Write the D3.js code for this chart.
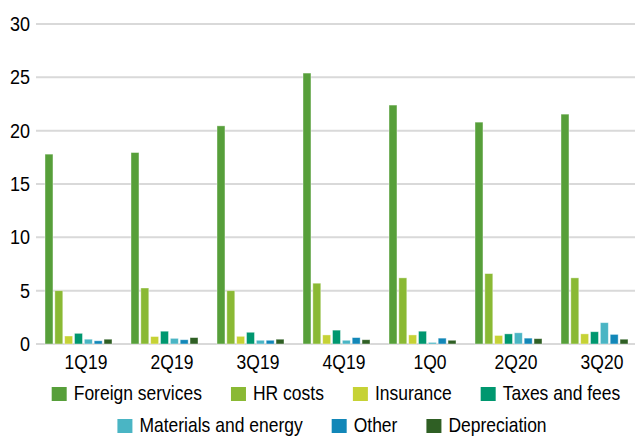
<!DOCTYPE html>
<html>
<head>
<meta charset="utf-8">
<script src="https://cdn.jsdelivr.net/npm/d3@7"></script>
<style>
  body { margin: 0; background: #fff; }
  svg { display: block; font-family: "Liberation Sans", Arial, sans-serif; }
</style>
</head>
<body>
<div id="wrapper"></div>
<script>
const quarters = ["1Q19", "2Q19", "3Q19", "4Q19", "1Q0", "2Q20", "3Q20"];
const seriesNames = ["Foreign services", "HR costs", "Insurance", "Taxes and fees",
  "Materials and energy", "Other", "Depreciation"];
const foreignServices = [17.8, 17.95, 20.45, 25.4, 22.4, 20.8, 21.55];
const hrCosts = [5.0, 5.25, 5.0, 5.7, 6.2, 6.6, 6.2];
const insurance = [0.75, 0.7, 0.72, 0.85, 0.85, 0.8, 0.95];
const taxesAndFees = [1.0, 1.2, 1.1, 1.3, 1.2, 0.95, 1.15];
const materialsEnergy = [0.45, 0.53, 0.35, 0.35, 0.15, 1.05, 2.0];
const other = [0.3, 0.4, 0.35, 0.6, 0.55, 0.55, 0.9];
const depreciation = [0.45, 0.6, 0.45, 0.4, 0.35, 0.5, 0.45];
const yTicks = [0, 5, 10, 15, 20, 25, 30];
const colors = ["#579f3a", "#8ab934", "#c6d235", "#00976f", "#4ab5c4", "#1287b8", "#2f5f24"];

const allSeries = [foreignServices, hrCosts, insurance, taxesAndFees, materialsEnergy, other, depreciation];
const data = quarters.map((q, i) => ({
  quarter: q,
  values: seriesNames.map((s, j) => ({ series: s, value: allSeries[j][i] })),
}));

const width = 635;
const height = 437;

const svg = d3.select("#wrapper").append("svg")
  .attr("width", width)
  .attr("height", height);

const yScale = d3.scaleLinear().domain([0, 30]).range([344, 24]);
const x0 = d3.scaleBand().domain(quarters).range([38, 640]);
const x1 = d3.scaleBand().domain(seriesNames).range([0, 67]).paddingInner(0.19);
const color = d3.scaleOrdinal().domain(seriesNames).range(colors);

// grid lines
svg.append("g")
  .selectAll("line")
  .data(yTicks)
  .join("line")
  .attr("x1", 36)
  .attr("x2", width)
  .attr("y1", (d) => yScale(d))
  .attr("y2", (d) => yScale(d))
  .attr("stroke", "#d9d9d9")
  .attr("stroke-width", 2);

// y labels
const stretch = 1.12;
svg.append("g")
  .selectAll("text")
  .data(yTicks)
  .join("text")
  .attr("transform", (d) => `translate(30, ${yScale(d) + 7}) scale(1, ${stretch})`)
  .attr("text-anchor", "end")
  .style("font-size", "18px")
  .attr("fill", "#000")
  .text((d) => d);

// bars
const groups = svg.append("g")
  .selectAll("g")
  .data(data)
  .join("g")
  .attr("transform", (d) => `translate(${x0(d.quarter) + 7}, 0)`);

groups.selectAll("rect")
  .data((d) => d.values)
  .join("rect")
  .attr("x", (d) => x1(d.series))
  .attr("width", x1.bandwidth())
  .attr("y", (d) => yScale(d.value))
  .attr("height", (d) => yScale(0) - yScale(d.value))
  .attr("fill", (d) => color(d.series))
  .attr("stroke", "#ffffff")
  .attr("stroke-opacity", 0.5)
  .attr("stroke-width", 0.8);

// x labels
svg.append("g")
  .selectAll("text")
  .data(quarters)
  .join("text")
  .attr("transform", (d) => `translate(${x0(d) + x0.bandwidth() / 2 + 5}, 369) scale(1, ${stretch})`)
  .attr("text-anchor", "middle")
  .style("font-size", "17.5px")
  .attr("fill", "#000")
  .text((d) => d);

// legend
const legendRows = [seriesNames.slice(0, 4), seriesNames.slice(4)];
const rowBaselines = [400, 432];
const rowCenters = [336, 332];
const swatch = 15;
const swatchGap = 7;
const itemGap = 29;

legendRows.forEach((row, r) => {
  const g = svg.append("g");
  const items = g.selectAll("g")
    .data(row)
    .join("g");
  items.append("rect")
    .attr("width", swatch)
    .attr("height", 14)
    .attr("y", rowBaselines[r] - 13)
    .attr("fill", (d) => color(d));
  items.append("text")
    .attr("transform", `translate(${swatch + swatchGap}, ${rowBaselines[r]}) scale(1, ${stretch})`)
    .style("font-size", "17.5px")
    .attr("fill", "#000")
    .text((d) => d);
  let xPos = 0;
  const positions = [];
  items.each(function () {
    const w = this.querySelector("text").getComputedTextLength();
    positions.push(xPos);
    xPos += swatch + swatchGap + w + itemGap;
  });
  const total = xPos - itemGap;
  const start = rowCenters[r] - total / 2;
  items.attr("transform", (d, i) => `translate(${start + positions[i]}, 0)`);
});
</script>
</body>
</html>
